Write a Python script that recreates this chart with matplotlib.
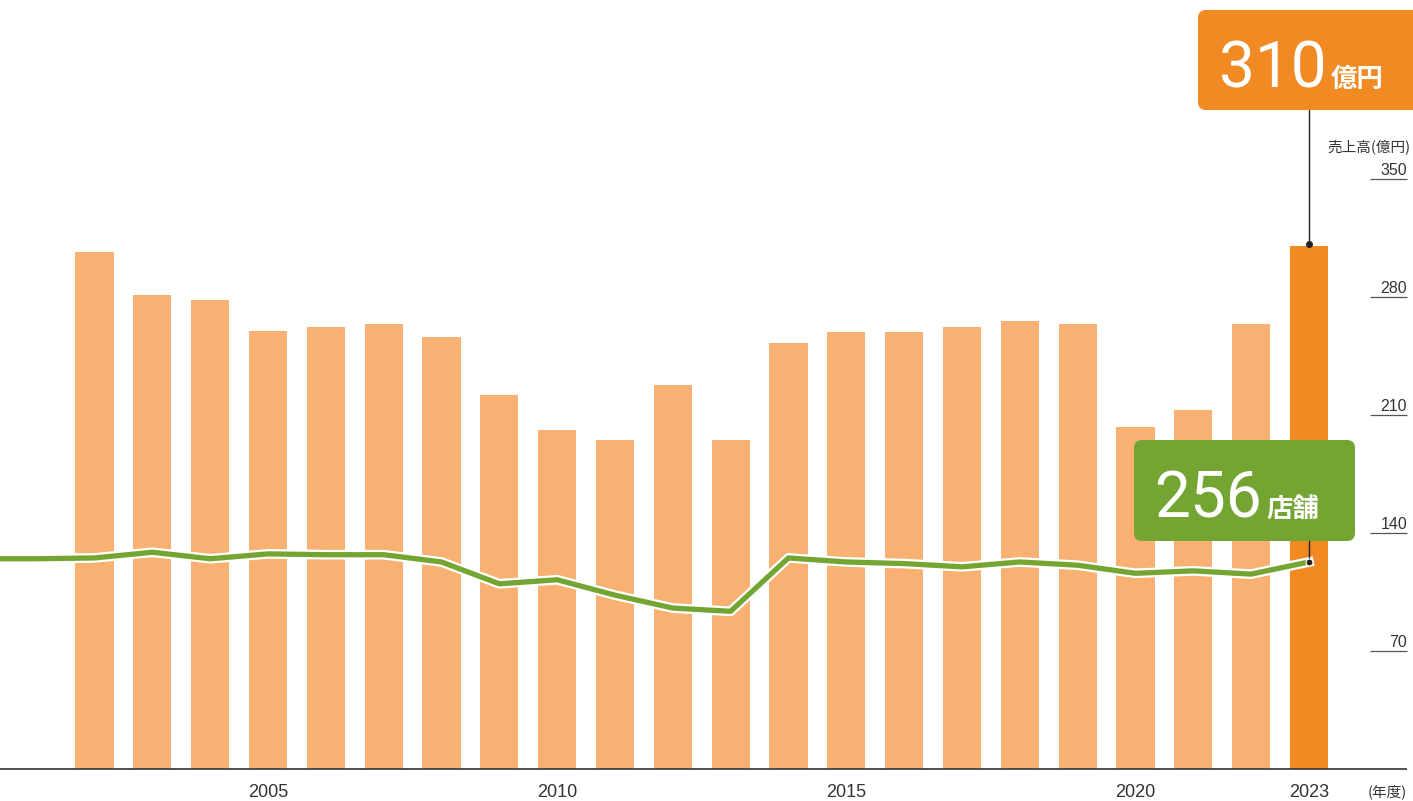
import matplotlib.pyplot as plt
import matplotlib.patheffects as pe
from matplotlib.patches import FancyBboxPatch
from matplotlib.transforms import IdentityTransform

plt.rcParams['font.family'] = ['Liberation Sans', 'Noto Sans CJK JP', 'DejaVu Sans']

years = list(range(2002, 2024))
sales = [307, 281, 278, 260, 262, 264, 256, 222, 201, 195, 228, 195,
         253, 259, 259, 262, 266, 264, 203, 213, 264, 310]

store_years = list(range(2000, 2024))
stores = [260, 260, 261, 268, 260, 266, 265, 265, 256, 229, 234, 215,
          199, 195, 261, 256, 254, 250, 256, 252, 242, 245, 241, 256]

ytick_vals = [70, 140, 210, 280, 350]
year_labels = [2005, 2010, 2015, 2020, 2023]

light = '#F9B173'
dark = '#F28A24'
green = '#74A532'

fig = plt.figure(figsize=(14.13, 8.01), dpi=100)
ax = fig.add_axes([0, 0, 1, 1])
ax.axis('off')
ax.set_xlim(2000.366, 2024.80)
ax.set_ylim(-18.98, 456.2)

colors = [dark if y == 2023 else light for y in years]
ax.bar(years, sales, width=0.66, color=colors, zorder=1)
ax.hlines(0, 2000.366, 2024.70, color='#333333', lw=1.2, zorder=2)

# right-hand sales scale
for v in ytick_vals:
    ax.hlines(v, 2024.06, 2024.70, color='#555555', lw=0.9)
    ax.text(2024.70, v + 2.6, str(v), ha='right', va='baseline',
            fontsize=11.5, color='#333333')
ax.text(2024.76, 369, '売上高(億円)', ha='right', va='center',
        fontsize=10.5, color='#333333', family=['Noto Sans CJK JP'])

for y in year_labels:
    ax.text(y, -14.2, str(y), ha='center', va='center', fontsize=13, color='#333333')
ax.text(2024.70, -13.6, '(年度)', ha='right', va='center', fontsize=10.5,
        color='#333333', family=['Noto Sans CJK JP'])

# store count line
ax2 = ax.twinx()
ax2.axis('off')
ax2.set_ylim(-39.6, 951.0)
ax2.plot(store_years, stores, color=green, lw=3.8, zorder=3,
         path_effects=[pe.Stroke(linewidth=7, foreground='white'), pe.Normal()])

# leader lines to callouts
ax.plot([2023, 2023], [sales[-1], 390.9], color='#222222', lw=1, zorder=4)
ax.plot(2023, sales[-1] + 1.5, 'o', color='#222222', ms=4, zorder=5)
ax2.plot([2023, 2023], [stores[-1], 282], color='#222222', lw=1, zorder=4)
ax2.plot(2023, stores[-1], 'o', color='#222222', ms=5, zorder=5,
         markeredgecolor='white', markeredgewidth=0.8)

tr = IdentityTransform()
box1 = FancyBboxPatch((1198, 691), 240, 100, boxstyle='round,pad=0,rounding_size=8',
                      transform=tr, facecolor=dark, edgecolor='none', zorder=6)
box2 = FancyBboxPatch((1134, 260), 221, 101, boxstyle='round,pad=0,rounding_size=8',
                      transform=tr, facecolor=green, edgecolor='none', zorder=6)
ax.add_patch(box1)
ax.add_patch(box2)

big = dict(fontsize=46, color='white', zorder=7, family=['Roboto'])
unit = dict(fontsize=19, color='white', zorder=7, family=['Noto Sans CJK JP'], weight='bold')
ax.text(1327, 714, str(sales[-1]), transform=tr, ha='right', va='baseline', **big)
ax.text(1331, 714, '億円', transform=tr, ha='left', va='baseline', **unit)
ax.text(1262, 284, str(stores[-1]), transform=tr, ha='right', va='baseline', **big)
ax.text(1266, 284, '店舗', transform=tr, ha='left', va='baseline', **unit)

fig.savefig('out.png', dpi=100)
